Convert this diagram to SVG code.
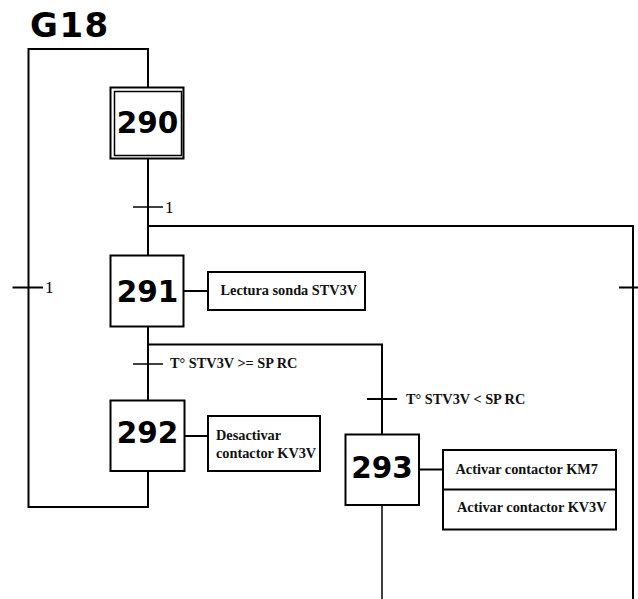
<svg xmlns="http://www.w3.org/2000/svg" width="638" height="599" viewBox="0 0 638 599">
<style>
.ln{fill:none;stroke:#000;stroke-width:2}
.thin{fill:none;stroke:#000;stroke-width:1.5}
.box{fill:#fff;stroke:#000;stroke-width:2}
.step{font-family:"DejaVu Sans",Verdana,sans-serif;font-weight:bold;font-size:29.5px;text-anchor:middle;fill:#000}
.lbl{font-family:"Liberation Serif","Times New Roman",serif;font-weight:bold;font-size:14.3px;fill:#111}
.num{font-family:"Liberation Serif","Times New Roman",serif;font-size:17px;fill:#000}
</style>
<rect width="638" height="599" fill="#fff"/>
<text x="30" y="37" font-family="DejaVu Sans,Verdana,sans-serif" font-weight="bold" font-size="34" letter-spacing="1.5" fill="#000">G18</text>
<g id="connectors">
  <polyline class="ln" points="148,87 148,49 28.5,49 28.5,507 148,507 148,471"/>
  <line class="ln" x1="148" y1="159" x2="148" y2="255"/>
  <polyline class="ln" points="148,226 633,226 633,599"/>
  <line class="ln" x1="148" y1="327" x2="148" y2="400"/>
  <polyline class="ln" points="148,344.5 382,344.5 382,434"/>
  <line class="thin" x1="382" y1="505" x2="382" y2="599"/>
  <line class="ln" x1="184" y1="291" x2="208" y2="291"/>
  <line class="ln" x1="185" y1="436" x2="208" y2="436"/>
  <line class="ln" x1="419" y1="469.5" x2="443" y2="469.5"/>
</g>
<g id="t_290_291">
  <line class="thin" x1="133" y1="207" x2="163" y2="207"/>
  <text class="num" x="165" y="213">1</text>
</g>
<g id="t_loop">
  <line class="ln" x1="12.5" y1="287.5" x2="43" y2="287.5"/>
  <text class="num" x="45" y="293">1</text>
</g>
<g id="t_right">
  <line class="ln" x1="619" y1="287.5" x2="638" y2="287.5"/>
</g>
<g id="t_291_292">
  <line class="thin" x1="133" y1="364" x2="163" y2="364"/>
  <text class="lbl" x="170" y="368">T° STV3V &gt;= SP RC</text>
</g>
<g id="t_291_293">
  <line class="ln" x1="367" y1="399" x2="397" y2="399"/>
  <text class="lbl" x="406" y="403.5">T° STV3V &lt; SP RC</text>
</g>
<g id="step290">
  <rect class="box" x="110.5" y="87.5" width="73" height="71"/>
  <rect class="thin" x="114.5" y="91.5" width="67" height="64"/>
  <text class="step" x="147.5" y="133">290</text>
</g>
<g id="step291">
  <rect class="box" x="110.5" y="255.5" width="73" height="71"/>
  <text class="step" x="147.5" y="301.5">291</text>
</g>
<g id="step292">
  <rect class="box" x="110.5" y="400.5" width="74" height="70.5"/>
  <text class="step" x="147.5" y="443">292</text>
</g>
<g id="step293">
  <rect class="box" x="345.5" y="434.5" width="73.5" height="70.5"/>
  <text class="step" x="382" y="478">293</text>
</g>
<g id="action291">
  <rect class="box" x="208" y="272" width="157" height="38"/>
  <text class="lbl" x="220.5" y="294.5">Lectura sonda STV3V</text>
</g>
<g id="action292">
  <rect class="box" x="208" y="416" width="112" height="55"/>
  <text class="lbl" x="216" y="440">Desactivar</text>
  <text class="lbl" x="216" y="457.5">contactor KV3V</text>
</g>
<g id="action293">
  <rect class="box" x="443" y="450" width="173" height="79.5"/>
  <line class="ln" x1="443" y1="489.5" x2="616" y2="489.5"/>
  <text class="lbl" x="455.5" y="474">Activar contactor KM7</text>
  <text class="lbl" x="457" y="512">Activar contactor KV3V</text>
</g>
</svg>
